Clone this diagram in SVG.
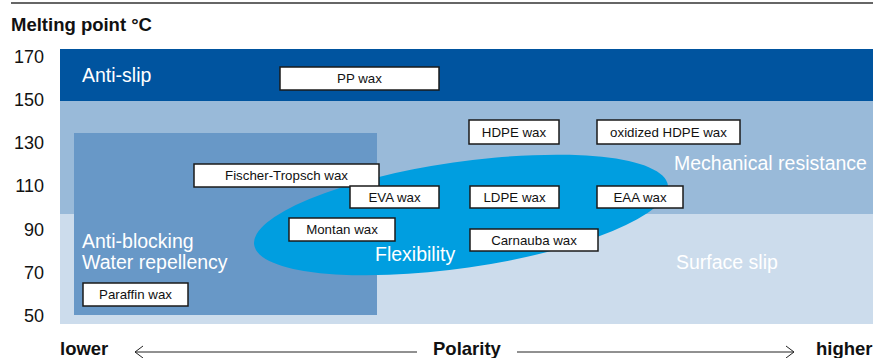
<svg xmlns="http://www.w3.org/2000/svg" width="873" height="358" viewBox="0 0 873 358">
<style>
.ax{font-family:"Liberation Sans",Arial,sans-serif;font-size:18px;fill:#111;text-anchor:end}
.ttl{font-family:"Liberation Sans",Arial,sans-serif;font-size:18.5px;font-weight:bold;fill:#111}
.zone{font-family:"Liberation Sans",Arial,sans-serif;font-size:19.5px;fill:#fff}
.box rect{fill:#fff;stroke:#1a1a1a;stroke-width:1.5}
.box text{font-family:"Liberation Sans",Arial,sans-serif;font-size:13.3px;fill:#111;text-anchor:middle}
.axl{stroke:#222;stroke-width:1;fill:none}
</style>
<line x1="11" y1="3" x2="873" y2="3" stroke="#333" stroke-width="1.3"/>
<text class="ttl" x="11" y="31">Melting point °C</text>
<g id="yaxis">
<text class="ax" x="44" y="63">170</text>
<text class="ax" x="44" y="106">150</text>
<text class="ax" x="44" y="149">130</text>
<text class="ax" x="44" y="192">110</text>
<text class="ax" x="44" y="236">90</text>
<text class="ax" x="44" y="279">70</text>
<text class="ax" x="44" y="322">50</text>
</g>
<g id="zones">
<rect x="60" y="49" width="813" height="52" fill="#00549F"/>
<rect x="60" y="101" width="813" height="113" fill="#99BAD9"/>
<rect x="60" y="214" width="813" height="110" fill="#CCDCEC"/>
<rect x="74" y="133" width="303" height="182" fill="#6898C7"/>
<ellipse cx="461" cy="215" rx="209" ry="53" transform="rotate(-8.2 461 215)" fill="#009EE0"/>
<text class="zone" x="82" y="82">Anti-slip</text>
<text class="zone" x="674" y="170">Mechanical resistance</text>
<text class="zone" x="82" y="248">Anti-blocking</text>
<text class="zone" x="82" y="269">Water repellency</text>
<text class="zone" x="375" y="261">Flexibility</text>
<text class="zone" x="676" y="269">Surface slip</text>
</g>
<g id="n-pp" class="box"><rect x="280" y="67" width="159" height="23"/><text x="359.5" y="83">PP wax</text></g>
<g id="n-hdpe" class="box"><rect x="469" y="120" width="90" height="24"/><text x="514" y="136.5">HDPE wax</text></g>
<g id="n-oxhdpe" class="box"><rect x="597" y="120" width="143" height="24"/><text x="668.5" y="136.5">oxidized HDPE wax</text></g>
<g id="n-ft" class="box"><rect x="194" y="164" width="185" height="23"/><text x="286.5" y="180">Fischer-Tropsch wax</text></g>
<g id="n-eva" class="box"><rect x="350" y="186" width="89" height="22"/><text x="394.5" y="201.5">EVA wax</text></g>
<g id="n-ldpe" class="box"><rect x="470" y="186" width="89" height="22"/><text x="514.5" y="201.5">LDPE wax</text></g>
<g id="n-eaa" class="box"><rect x="597" y="186" width="86" height="22"/><text x="640" y="201.5">EAA wax</text></g>
<g id="n-montan" class="box"><rect x="289" y="218" width="106" height="23"/><text x="342" y="234">Montan wax</text></g>
<g id="n-carnauba" class="box"><rect x="470" y="229" width="128" height="22"/><text x="534" y="244.5">Carnauba wax</text></g>
<g id="n-paraffin" class="box"><rect x="83" y="283" width="105" height="23"/><text x="135.5" y="299">Paraffin wax</text></g>
<g id="connectors">
<line class="axl" x1="135" y1="352" x2="417" y2="352"/>
<polyline class="axl" points="143,346 135,352 143,358"/>
<line class="axl" x1="517" y1="352" x2="794" y2="352"/>
<polyline class="axl" points="786,346 794,352 786,358"/>
</g>
<text class="ttl" x="60" y="355">lower</text>
<text class="ttl" x="433" y="355">Polarity</text>
<text class="ttl" x="816" y="355">higher</text>
</svg>
